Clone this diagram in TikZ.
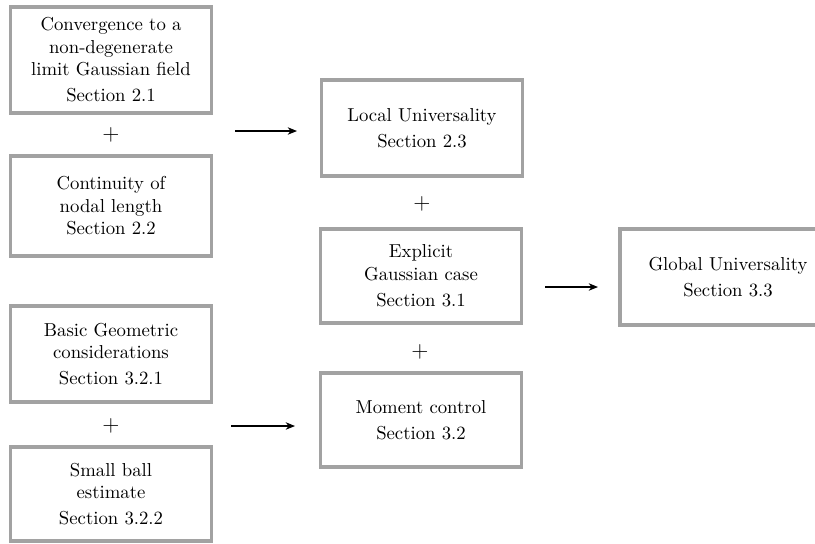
\documentclass[tikz,border=0pt]{standalone}
\usepackage{tikz}
\usetikzlibrary{arrows.meta}
\definecolor{boxColor}{RGB}{162,162,162}
\tikzstyle{diagram} = [x = 0.534pt, y = -0.534pt]
\tikzstyle{boxStyle} = [draw=boxColor, line width=2.1pt, fill=white, align=center, inner sep=0pt]
\tikzstyle{plusText} = [font=\large]
\tikzstyle{arrowStyle} = [-{Stealth[length=5pt, width=4pt]}, line width=0.6pt]
\newcommand{\boxWidth}{201 * 0.534pt}

\begin{document}
\begin{tikzpicture}[diagram]
  \useasboundingbox (0,0) rectangle (815,543);
  % left column
  \node [boxStyle, minimum width = \boxWidth, minimum height = 57pt] (conv) at (111,60) {Convergence to a\\ non-degenerate\\ limit Gaussian field\\[2pt] Section 2.1};
  \node [plusText] (plusA) at (111,135) {$+$};
  \node [boxStyle, minimum width = \boxWidth, minimum height = 53pt] (cont) at (111,206) {Continuity of\\ nodal length\\ Section 2.2};
  \node [boxStyle, minimum width = \boxWidth, minimum height = 51pt] (geom) at (111,354) {Basic Geometric\\ considerations\\[2pt] Section 3.2.1};
  \node [plusText] (plusB) at (111,426) {$+$};
  \node [boxStyle, minimum width = \boxWidth, minimum height = 50pt] (ball) at (111,494) {Small ball\\ estimate\\[2pt] Section 3.2.2};

  % middle column
  \node [boxStyle, minimum width = \boxWidth, minimum height = 51pt] (local) at (422,128) {Local Universality\\[2pt] Section 2.3};
  \node [plusText] (plusC) at (422,204) {$+$};
  \node [boxStyle, minimum width = \boxWidth, minimum height = 50pt] (expl) at (421,276) {Explicit\\ Gaussian case\\[2pt] Section 3.1};
  \node [plusText] (plusD) at (420,352) {$+$};
  \node [boxStyle, minimum width = \boxWidth, minimum height = 50pt] (moment) at (421,420) {Moment control\\[2pt] Section 3.2};

  % right column, runs past the page edge
  \node [boxStyle, minimum width = 115pt, minimum height = 51pt] (global) at (728,277) {Global Universality\\[2pt] Section 3.3};

  % arrows
  \coordinate (arrowAStart) at (235,131);
  \coordinate (arrowAEnd) at (297,131);
  \coordinate (arrowBStart) at (545,287);
  \coordinate (arrowBEnd) at (598,287);
  \coordinate (arrowCStart) at (231,426);
  \coordinate (arrowCEnd) at (295,426);
  \draw [arrowStyle] (arrowAStart) -- (arrowAEnd);
  \draw [arrowStyle] (arrowBStart) -- (arrowBEnd);
  \draw [arrowStyle] (arrowCStart) -- (arrowCEnd);
\end{tikzpicture}
\end{document}
